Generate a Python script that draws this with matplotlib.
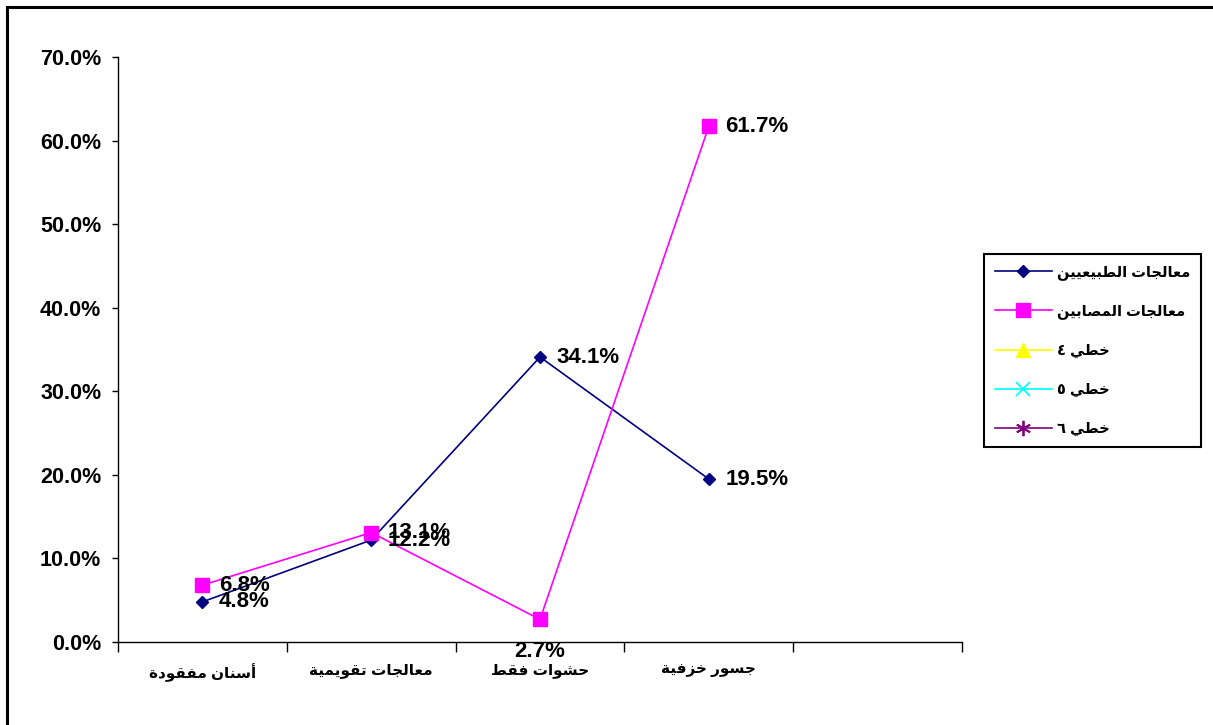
import matplotlib
matplotlib.use("Agg")
import matplotlib.pyplot as plt
from matplotlib.patches import Rectangle

# categories and series
categories = ["أسنان مفقودة", "معالجات تقويمية", "حشوات فقط", "جسور خزفية"]
normal = [4.8, 12.2, 34.1, 19.5]
patients = [6.8, 13.1, 2.7, 61.7]
series_names = ["معالجات الطبيعيين", "معالجات المصابين", "خطي ٤", "خطي ٥", "خطي ٦"]
yticks = [0, 10, 20, 30, 40, 50, 60, 70]

# --- minimal arabic shaping (matplotlib does no joining / bidi) ---
# letter -> (first presentation form, number of forms)
FORMS = {
    "\u0621": (0xFE80, 1), "\u0622": (0xFE81, 2), "\u0623": (0xFE83, 2),
    "\u0624": (0xFE85, 2), "\u0625": (0xFE87, 2), "\u0626": (0xFE89, 4),
    "\u0627": (0xFE8D, 2), "\u0628": (0xFE8F, 4), "\u0629": (0xFE93, 2),
    "\u062A": (0xFE95, 4), "\u062B": (0xFE99, 4), "\u062C": (0xFE9D, 4),
    "\u062D": (0xFEA1, 4), "\u062E": (0xFEA5, 4), "\u062F": (0xFEA9, 2),
    "\u0630": (0xFEAB, 2), "\u0631": (0xFEAD, 2), "\u0632": (0xFEAF, 2),
    "\u0633": (0xFEB1, 4), "\u0634": (0xFEB5, 4), "\u0635": (0xFEB9, 4),
    "\u0636": (0xFEBD, 4), "\u0637": (0xFEC1, 4), "\u0638": (0xFEC5, 4),
    "\u0639": (0xFEC9, 4), "\u063A": (0xFECD, 4), "\u0641": (0xFED1, 4),
    "\u0642": (0xFED5, 4), "\u0643": (0xFED9, 4), "\u0644": (0xFEDD, 4),
    "\u0645": (0xFEE1, 4), "\u0646": (0xFEE5, 4), "\u0647": (0xFEE9, 4),
    "\u0648": (0xFEED, 2), "\u0649": (0xFEEF, 2), "\u064A": (0xFEF1, 4),
}


def shape(text):
    out = []
    n = len(text)
    for i, ch in enumerate(text):
        if ch not in FORMS:
            out.append(ch)
            continue
        base, nf = FORMS[ch]
        prev = text[i - 1] if i > 0 else ""
        nxt = text[i + 1] if i < n - 1 else ""
        join_prev = prev in FORMS and FORMS[prev][1] == 4
        join_next = nf == 4 and nxt in FORMS
        if nf == 1:
            form = 0
        elif join_prev and join_next:
            form = 3
        elif join_prev:
            form = 1
        elif join_next:
            form = 2
        else:
            form = 0
        out.append(chr(base + form))
    return "".join(out)[::-1]


plt.rcParams["font.family"] = ["Liberation Sans", "DejaVu Sans"]
plt.rcParams["font.weight"] = "bold"

fig = plt.figure(figsize=(12.13, 7.25), dpi=100)
ax = fig.add_axes([118 / 1213, 83 / 725, 844 / 1213, 585 / 725])

x = list(range(len(categories)))
ax.plot(x, normal, color="#000080", lw=1.2, marker="D", ms=6.5,
        label=shape(series_names[0]))
ax.plot(x, patients, color="#FF00FF", lw=1.2, marker="s", ms=10,
        label=shape(series_names[1]))
ax.plot([], [], color="#FFFF00", lw=1.2, marker="^", ms=10, label=shape(series_names[2]))
ax.plot([], [], color="#00FFFF", lw=1.2, marker="x", ms=10, mew=1.3,
        label=shape(series_names[3]))
ax.plot([], [], color="#800080", lw=1.2, marker=(6, 2, 0), ms=11, mew=1.3,
        label=shape(series_names[4]))

# value labels
for xi, v in zip(x, normal):
    ax.annotate(f"{v:.1f}%", (xi, v), xytext=(12, 0), textcoords="offset points",
                ha="left", va="center", fontsize=16, fontweight="bold")
for xi, v in zip(x, patients):
    if v < 5:
        ax.annotate(f"{v:.1f}%", (xi, v), xytext=(0, -23), textcoords="offset points",
                    ha="center", va="center", fontsize=16, fontweight="bold")
    else:
        ax.annotate(f"{v:.1f}%", (xi, v), xytext=(12, 0), textcoords="offset points",
                    ha="left", va="center", fontsize=16, fontweight="bold")

ax.set_xlim(-0.5, 4.5)
ax.set_ylim(0, 70)
ax.set_yticks(yticks)
ax.set_yticklabels([f"{t:.1f}%" for t in yticks], fontsize=15.5, fontweight="bold")
ax.tick_params(axis="y", direction="out", length=4, width=1, pad=8)

ax.set_xticks([i - 0.5 for i in range(6)])
ax.set_xticklabels([])
ax.tick_params(axis="x", which="major", direction="out", length=7, width=1)
ax.set_xticks(x, minor=True)
ax.set_xticklabels([shape(c) for c in categories], minor=True,
                   fontsize=11, fontweight="bold")
ax.tick_params(axis="x", which="minor", length=0, pad=15)

for side in ["top", "right"]:
    ax.spines[side].set_visible(False)
for side in ["left", "bottom"]:
    ax.spines[side].set_linewidth(1)
    ax.spines[side].set_color("black")

leg = ax.legend(loc="upper left", bbox_to_anchor=(984 / 1213, 1 - 254 / 725),
                bbox_transform=fig.transFigure, borderaxespad=0, fancybox=False,
                edgecolor="black", framealpha=1, prop={"size": 10.5, "weight": "bold"},
                handlelength=3.9, labelspacing=1.7, borderpad=0.75, handletextpad=0.35)
leg.get_frame().set_linewidth(1.5)

# chart area border
fig.patches.append(Rectangle((7 / 1213, -0.5), 1.5, 1.5 - 7 / 725,
                             transform=fig.transFigure, fill=False,
                             edgecolor="black", lw=2.2))

fig.savefig("out.png", dpi=100)
